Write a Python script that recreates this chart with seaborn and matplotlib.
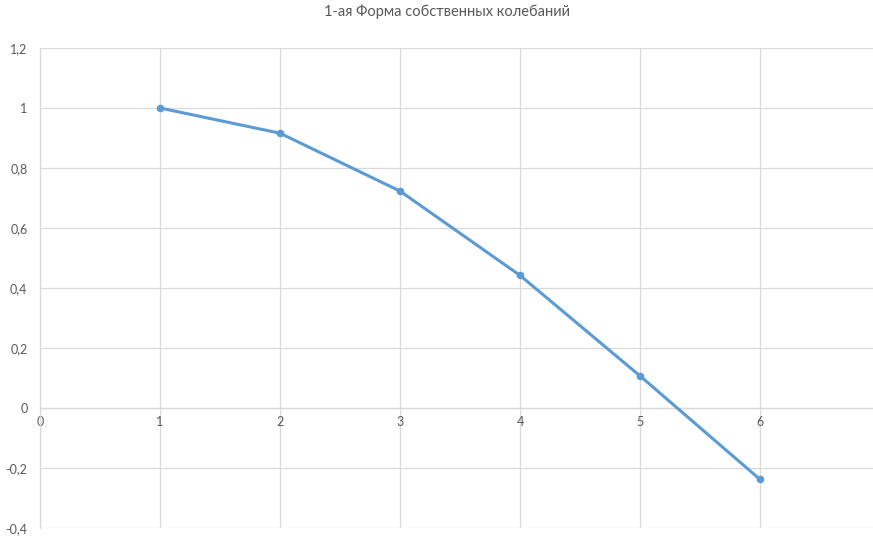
import matplotlib
matplotlib.use("Agg")
import matplotlib.pyplot as plt
import matplotlib.ticker as mticker
import seaborn as sns
import pandas as pd

# Mode shape: normalized displacement per storey
title = "1-ая Форма собственных колебаний"
levels = [1, 2, 3, 4, 5, 6]
amplitude = [1.0, 0.916, 0.723, 0.442, 0.107, -0.238]
x_ticks = [0, 1, 2, 3, 4, 5, 6]
y_ticks = [-0.4, -0.2, 0.0, 0.2, 0.4, 0.6, 0.8, 1.0, 1.2]

df = pd.DataFrame({"level": levels, "amplitude": amplitude})

sns.set_theme(style="white")
plt.rcParams["font.family"] = ["Lato", "DejaVu Sans"]

grid_color = "#d9d9d9"
text_color = "#595959"
line_color = "#5b9bd5"


def comma_decimal(v, _):
    if abs(v) < 1e-9:
        return "0"
    return f"{v:g}".replace(".", ",")


fig = plt.figure(figsize=(8.73, 5.37), dpi=100)
ax = fig.add_axes([40 / 873, 9 / 537, 840 / 873, 480 / 537])

sns.lineplot(data=df, x="level", y="amplitude", ax=ax, color=line_color,
             linewidth=2.2, marker="o", markersize=5.5, markeredgewidth=0,
             zorder=3)

ax.set_xlim(0, 7)
ax.set_ylim(-0.4, 1.2)
ax.set_xticks(x_ticks)
ax.set_yticks(y_ticks)
ax.yaxis.set_major_formatter(mticker.FuncFormatter(comma_decimal))
ax.xaxis.set_major_formatter(mticker.FuncFormatter(lambda v, _: f"{v:g}"))

ax.grid(True, color=grid_color, linewidth=0.9)
ax.set_axisbelow(True)

for side in ["top", "right"]:
    ax.spines[side].set_visible(False)
ax.spines["left"].set_color(grid_color)
ax.spines["left"].set_linewidth(0.9)
ax.spines["bottom"].set_position(("data", 0))
ax.spines["bottom"].set_color(grid_color)
ax.spines["bottom"].set_linewidth(0.9)

ax.tick_params(axis="both", length=0, labelsize=9, labelcolor=text_color)
ax.tick_params(axis="x", pad=6)
ax.tick_params(axis="y", pad=9)

ax.set_xlabel("")
ax.set_ylabel("")

fig.text(447 / 873, 1 - 12 / 537, title, ha="center", va="center",
         fontsize=10.5, color=text_color)

fig.savefig("out.png", dpi=100)
